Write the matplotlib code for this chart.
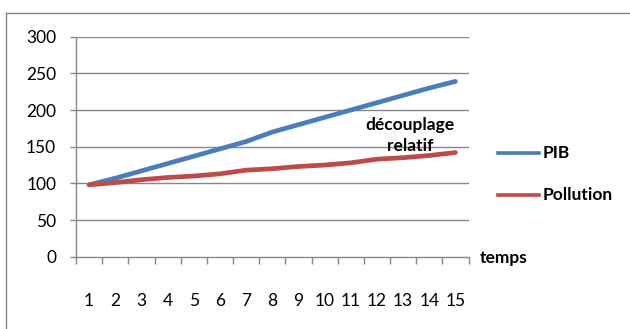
import numpy as np
import matplotlib
matplotlib.use("Agg")
import matplotlib.pyplot as plt
from matplotlib.lines import Line2D

plt.rcParams['font.family'] = ['Lato', 'DejaVu Sans']

# series
temps = list(range(1, 16))
pib = [98, 107, 117, 127, 137, 147, 157, 170, 180, 190, 200, 210, 220, 230, 239]
pollution = [98, 101, 105, 108, 110, 113, 118, 120, 123, 125, 128, 133, 135, 138, 142]
yticks = [0, 50, 100, 150, 200, 250, 300]

blue = '#4a7ebb'
red = '#be4b48'
grey = '#878787'

W, H = 630, 329
fig = plt.figure(figsize=(W / 100, H / 100), dpi=100)

# outer chart frame (runs off the right and bottom edges)
fy = 1 - 12.5 / H
fig.add_artist(Line2D([6 / W, 6 / W], [fy, -0.1], color=grey, lw=1.0, transform=fig.transFigure))
fig.add_artist(Line2D([6 / W, 1.1], [fy, fy], color=grey, lw=1.0, transform=fig.transFigure))

x0, x1 = 76, 468.5
ytop, ybot = 36.7, 256.7
ax = fig.add_axes([x0 / W, 1 - ybot / H, (x1 - x0) / W, (ybot - ytop) / H])

ax.plot(temps, pib, color=blue, lw=3.4, solid_capstyle='round', zorder=3)
ax.plot(temps, pollution, color=red, lw=3.4, solid_capstyle='round', zorder=3)

ax.set_xlim(0.5, 15.5)
ax.set_ylim(0, 300)
ax.set_yticks(yticks)
for v in yticks[1:]:
    ax.axhline(v, color=grey, lw=1.0, zorder=1)

for s in ['top', 'right']:
    ax.spines[s].set_visible(False)
for s in ['left', 'bottom']:
    ax.spines[s].set_color(grey)
    ax.spines[s].set_linewidth(1.0)

ax.set_xticks(temps)
ax.set_xticks(np.arange(0.5, 16, 1), minor=True)
ax.tick_params(axis='x', which='major', length=0, pad=26, labelsize=12.5, colors='black')
ax.tick_params(axis='x', which='minor', length=4.8, width=1.0, color=grey, direction='out')
ax.tick_params(axis='y', length=4.3, width=1.0, color=grey, pad=10, labelsize=12.5)

ax.text(0.651, 1 - 135.5 / H, 'découplage\nrelatif', transform=fig.transFigure, ha='center', va='center',
        fontsize=12.5, fontweight='bold', linespacing=1.35, zorder=4)
ax.text(480 / W, 1 - 258 / H, 'temps', transform=fig.transFigure, ha='left', va='center',
        fontsize=12.5, fontweight='bold')

# legend
for yy, col, lab in [(153, blue, 'PIB'), (195, red, 'Pollution')]:
    fy_ = 1 - yy / H
    fig.add_artist(Line2D([498 / W, 539 / W], [fy_, fy_], color=col, lw=2.6, transform=fig.transFigure))
    fig.text(543 / W, fy_, lab, ha='left', va='center', fontsize=12.5, fontweight='bold')

fig.savefig('out.png', dpi=100)
